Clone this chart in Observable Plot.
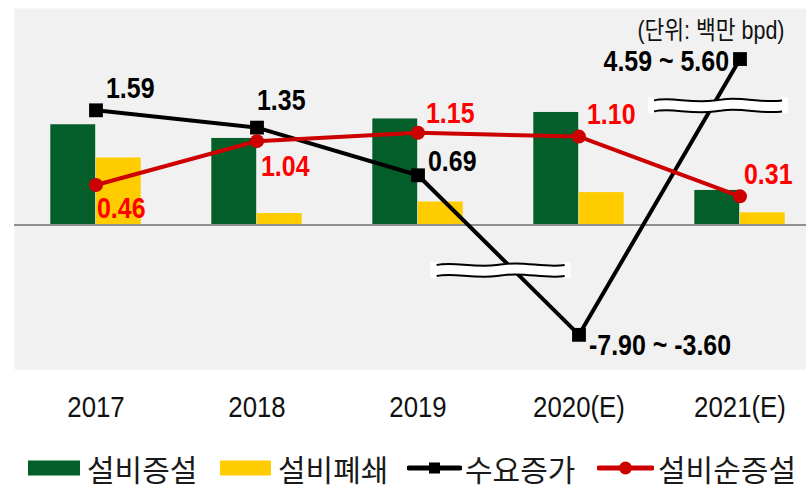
<!DOCTYPE html>
<html><head><meta charset="utf-8">
<script src="https://cdn.jsdelivr.net/npm/d3@7"></script>
<script src="https://cdn.jsdelivr.net/npm/@observablehq/plot@0.6"></script>
<style>
body{margin:0;background:#fff;}
#wrap{position:relative;width:806px;height:485px;overflow:hidden;}
#chart svg{display:block;overflow:hidden;}
#legend{position:absolute;left:0;top:450px;width:806px;height:35px;display:flex;align-items:center;padding-left:28px;box-sizing:border-box;font-family:"Noto Sans CJK KR",sans-serif;font-size:30px;color:#1a1a1a;}
.lg{display:flex;align-items:center;flex:0 0 auto;white-space:nowrap;}
.lg svg{flex:0 0 auto;display:block;}
.lg span{line-height:1;display:inline-block;}
</style></head><body><div id="wrap"><div id="chart"></div><div id="legend"></div></div>
<script>
// ---- data ----
const categories = ["2017", "2018", "2019", "2020(E)", "2021(E)"];
const seriesNames = ["설비증설", "설비폐쇄", "수요증가", "설비순증설"];
const capacityAdditions = [1.39, 1.20, 1.47, 1.56, 0.48];
const capacityClosures = [0.93, 0.16, 0.32, 0.45, 0.17];
// demand growth, as placed on the broken axis (2020/2021 are ranges beyond the axis break)
const demandGrowth = [1.59, 1.35, 0.69, -1.52, 2.30];
const demandLabels = ["1.59", "1.35", "0.69", "-7.90 ~ -3.60", "4.59 ~ 5.60"];
const netAdditions = [0.46, 1.04, 1.15, 1.10, 0.31];
const unitLabel = "(단위: 백만 bpd)";

// ---- styling / layout ----
const GREEN = "#035e29", YELLOW = "#ffcc00", RED_LINE = "#cc0000", RED_TEXT = "#ff0000";
const SANS = "'Liberation Sans',Arial,'Noto Sans CJK KR',sans-serif";
const NARROW_SCALE = 0.86; // Arial Narrow look: horizontally condensed text
// secondary axis used by the net-addition line
const secondary = v => 0.073 + 1.048 * v;
const demandLabelLayout = [
  {anchor: "start", dx: 10, dy: -22}, {anchor: "start", dx: 0, dy: -27},
  {anchor: "start", dx: 10, dy: -14}, {anchor: "start", dx: 10, dy: 11},
  {anchor: "end", dx: -11, dy: 3}];
const netLabelLayout = [
  {dx: 1, dy: 24}, {dx: 4, dy: 26}, {dx: 8, dy: -19}, {dx: 8, dy: -22}, {dx: 4, dy: -22}];
const axisBreaks = [{from: 2, y: -0.63, shift: -13}, {from: 3, y: 1.65, shift: 6}];

const rows = categories.map((c, i) => ({
  cat: c, add: capacityAdditions[i], close: capacityClosures[i],
  demand: demandGrowth[i], demandLabel: demandLabels[i],
  net: netAdditions[i], netY: secondary(netAdditions[i]), netLabel: netAdditions[i].toFixed(2)
}));

function breakMark(index, scales) {
  const x = scales.x, y = scales.y;
  const bw = typeof x.bandwidth === "function" ? x.bandwidth() : 0;
  const g = d3.create("svg:g");
  for (const b of axisBreaks) {
    const i0 = b.from, i1 = b.from + 1;
    const x0 = x(categories[i0]) + bw / 2, x1 = x(categories[i1]) + bw / 2;
    const y0 = y(demandGrowth[i0]), y1 = y(demandGrowth[i1]);
    const yc = y(b.y);
    const t = (yc - y0) / (y1 - y0);
    const xc = x0 + t * (x1 - x0) + b.shift;
    const gg = g.append("g").attr("transform", `translate(${xc},${yc})`);
    const top = "M-64,-5 C-48,-9 -28,-2 -4,-5 L4,-6 C24,-9 44,-2 64,-5";
    const bot = "M-64,6 C-48,2 -28,9 -4,6 L4,5 C24,2 44,9 64,6";
    gg.append("path").attr("d", top + " L64,6 C44,9 24,2 4,5 L-4,6 C-28,9 -48,2 -64,6 Z").attr("fill", "#fff");
    gg.append("rect").attr("x", -70).attr("y", -8).attr("width", 7).attr("height", 16).attr("fill", "#fff");
    gg.append("rect").attr("x", 63).attr("y", -8).attr("width", 7).attr("height", 16).attr("fill", "#fff");
    gg.append("path").attr("d", top).attr("fill", "none").attr("stroke", "#000").attr("stroke-width", 2);
    gg.append("path").attr("d", bot).attr("fill", "none").attr("stroke", "#000").attr("stroke-width", 2);
  }
  return g.node();
}

const chart = Plot.plot({
  width: 806, height: 435,
  marginLeft: 14, marginRight: 0, marginTop: 8, marginBottom: 66,
  x: {domain: categories, range: [13, 821], padding: 0, axis: null},
  y: {domain: [-2, 3], axis: null},
  style: {background: "transparent", overflow: "hidden"},
  marks: [
    Plot.frame({fill: "#f1f1f1", stroke: "none"}),
    Plot.barY(rows, {x: "cat", y: "add", fill: GREEN, insetLeft: 35.3, insetRight: 80.8}),
    Plot.barY(rows, {x: "cat", y: "close", fill: YELLOW, insetLeft: 80.8, insetRight: 35.3}),
    Plot.ruleY([0], {stroke: "#8f8f8f", strokeWidth: 2}),
    Plot.line(rows, {x: "cat", y: "demand", stroke: "#000", strokeWidth: 4}),
    breakMark,
    Plot.dot(rows, {x: "cat", y: "demand", symbol: "square", r: 7.8, fill: "#000"}),
    Plot.line(rows, {x: "cat", y: "netY", stroke: RED_LINE, strokeWidth: 4}),
    Plot.dot(rows, {x: "cat", y: "netY", r: 7, fill: RED_LINE}),
    ...rows.map((r, i) => Plot.text([r], {
      x: "cat", y: "demand", text: "demandLabel",
      textAnchor: demandLabelLayout[i].anchor, dx: demandLabelLayout[i].dx, dy: demandLabelLayout[i].dy,
      lineAnchor: "middle", fontSize: 29, fontWeight: "bold", fontFamily: SANS, fill: "#000"
    })),
    ...rows.map((r, i) => Plot.text([r], {
      x: "cat", y: "netY", text: "netLabel",
      textAnchor: "start", dx: netLabelLayout[i].dx, dy: netLabelLayout[i].dy,
      lineAnchor: "middle", fontSize: 29, fontWeight: "bold", fontFamily: SANS, fill: RED_TEXT
    })),
    Plot.text(categories, {x: d => d, frameAnchor: "bottom", dy: 38, lineAnchor: "middle",
      fontSize: 30, fontFamily: SANS, fill: "#111"}),
    Plot.text([unitLabel], {frameAnchor: "top-right", dx: -22, dy: 22, lineAnchor: "middle",
      textAnchor: "end", fontSize: 25, fontFamily: SANS, fill: "#111"})
  ]
});
// condense all texts horizontally around their anchor points (narrow-font look)
chart.querySelectorAll("text").forEach(t => {
  const tr = t.getAttribute("transform") || "";
  t.setAttribute("transform", tr + ` scale(${NARROW_SCALE},1)`);
});
document.getElementById("chart").appendChild(chart);

// ---- legend ----
const legend = document.getElementById("legend");
const legendItems = [
  {width: 192, gap: 7, swatch: `<svg width="52" height="16"><rect x="0" y="0.5" width="52" height="15" fill="${GREEN}"/></svg>`},
  {width: 187, gap: 7, swatch: `<svg width="51" height="16"><rect x="0" y="0.5" width="51" height="15" fill="${YELLOW}"/></svg>`},
  {width: 190, gap: 3, swatch: `<svg width="55" height="16"><line x1="2" y1="8" x2="53" y2="8" stroke="#000" stroke-width="5" stroke-linecap="round"/><rect x="22" y="2.5" width="11" height="11" fill="#000"/></svg>`},
  {width: null, gap: 4, swatch: `<svg width="57" height="16"><line x1="2" y1="8" x2="55" y2="8" stroke="${RED_LINE}" stroke-width="5" stroke-linecap="round"/><circle cx="28.5" cy="8" r="6.5" fill="${RED_LINE}"/></svg>`}
];
legendItems.forEach((it, i) => {
  const d = document.createElement("div");
  d.className = "lg";
  if (it.width) d.style.width = it.width + "px";
  d.innerHTML = it.swatch + `<span style="margin-left:${it.gap}px">${seriesNames[i]}</span>`;
  legend.appendChild(d);
});
</script>
</body></html>
